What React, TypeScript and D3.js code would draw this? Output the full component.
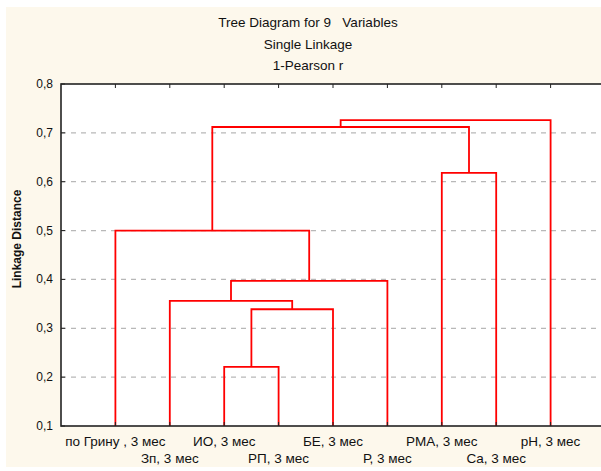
import React from "react";
import * as d3 from "d3";

const titleLines = ["Tree Diagram for 9   Variables", "Single Linkage", "1-Pearson r"];
const yLabel = "Linkage Distance";

// leaf order along the x axis
const leaves = [
  "по Грину , 3 мес",
  "Зп, 3 мес",
  "ИО, 3 мес",
  "РП, 3 мес",
  "БЕ, 3 мес",
  "Р, 3 мес",
  "РМА, 3 мес",
  "Ca, 3 мес",
  "pH, 3 мес",
];

// merges: [left node, right node, distance]; nodes 0-8 are leaves, 9+ are earlier merges
const mergeLeft = [2, 9, 1, 11, 0, 6, 13, 15];
const mergeRight = [3, 4, 10, 5, 12, 7, 14, 8];
const mergeHeight = [0.221, 0.339, 0.356, 0.397, 0.5, 0.618, 0.712, 0.726];

const yTicks = [0.1, 0.2, 0.3, 0.4, 0.5, 0.6, 0.7, 0.8];

const W = 601;
const H = 471;
const left = 61;
const top = 84;
const bottom = 426;
const right = 605;

export default function App() {
  const x = d3.scaleLinear().domain([0, leaves.length + 1]).range([left, right]);
  const y = d3.scaleLinear().domain([0.1, 0.8]).range([bottom, top]);
  const fmt = (v: number) => d3.format(".1f")(v).replace(".", ",");

  // node positions
  const nodeX: number[] = leaves.map((_, i) => x(i + 1));
  const nodeH: number[] = leaves.map(() => 0.1);
  const paths: string[] = [];
  mergeLeft.forEach((a, k) => {
    const b = mergeRight[k];
    const h = mergeHeight[k];
    const p = d3.path();
    p.moveTo(nodeX[a], y(nodeH[a]));
    p.lineTo(nodeX[a], y(h));
    p.lineTo(nodeX[b], y(h));
    p.lineTo(nodeX[b], y(nodeH[b]));
    paths.push(p.toString());
    nodeX.push((nodeX[a] + nodeX[b]) / 2);
    nodeH.push(h);
  });

  const font = "'Liberation Sans', Arial, sans-serif";

  return (
    <svg width={W} height={H} style={{ position: "absolute", left: 0, top: 0 }} fontFamily={font}>
      <rect x={0} y={0} width={W} height={H} fill="#ffffff" />
      <rect x={6} y={7} width={W - 6} height={460} fill="#fdf8ec" />
      {titleLines.map((t, i) => (
        <text key={t} x={308} y={27 + i * 21.5} textAnchor="middle" fontSize={13.5} fill="#111" style={{ whiteSpace: "pre" }}>
          {t}
        </text>
      ))}
      <rect x={left} y={top} width={right - left} height={bottom - top} fill="#ffffff" />
      {yTicks.slice(1, -1).map((t) => (
        <line key={t} x1={left} x2={right} y1={y(t)} y2={y(t)} stroke="#b8b8b8" strokeWidth={1.3} strokeDasharray="5,5" />
      ))}
      {paths.map((d, i) => (
        <path key={i} d={d} fill="none" stroke="#ff0000" strokeWidth={1.8} />
      ))}
      <rect x={left} y={top} width={right - left} height={bottom - top} fill="none" stroke="#222" strokeWidth={1.6} />
      {yTicks.map((t) => (
        <g key={t}>
          <line x1={left} x2={left + 4} y1={y(t)} y2={y(t)} stroke="#222" />
          <line x1={right - 4} x2={right} y1={y(t)} y2={y(t)} stroke="#222" />
          <text x={53} y={y(t) + 4} textAnchor="end" fontSize={12} fill="#111">
            {fmt(t)}
          </text>
        </g>
      ))}
      {leaves.map((l, i) => (
        <g key={l}>
          <line x1={x(i + 1)} x2={x(i + 1)} y1={top} y2={top + 4} stroke="#222" />
          <line x1={x(i + 1)} x2={x(i + 1)} y1={bottom} y2={bottom - 4} stroke="#222" />
          <text x={x(i + 1)} y={i % 2 === 0 ? 446 : 463} textAnchor="middle" fontSize={13.5} fill="#111">
            {l}
          </text>
        </g>
      ))}
      <text transform={`translate(21,${(top + bottom) / 2 - 16}) rotate(-90)`} textAnchor="middle" fontSize={12} fontWeight="bold" fill="#111">
        {yLabel}
      </text>
    </svg>
  );
}
